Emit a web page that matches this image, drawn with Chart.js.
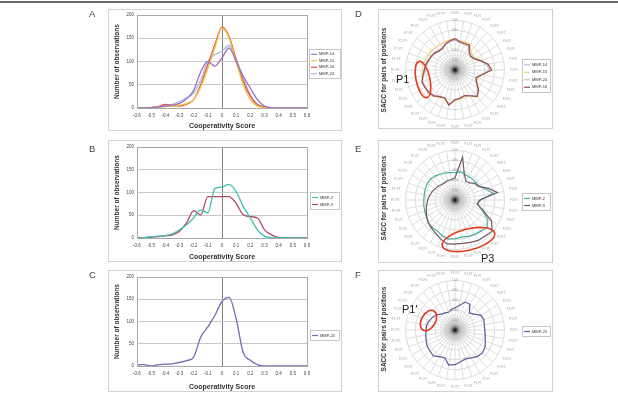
<!DOCTYPE html>
<html>
<head>
<meta charset="utf-8">
<script src="https://cdn.jsdelivr.net/npm/chart.js@4.4.1/dist/chart.umd.min.js"></script>
<style>
  body { margin: 0; width: 618px; height: 397px; background: #fff; position: relative; overflow: hidden; }
  canvas { position: absolute; }
  #overlay { position: absolute; left: 0; top: 0; z-index: 5; }
</style>
</head>
<body>
<div style="position:absolute;left:0;top:1px;width:618px;height:2px;background:#6a6a6a"></div>

<canvas id="chartA" width="234" height="122" style="left:108px;top:9px"></canvas>
<canvas id="chartB" width="234" height="122" style="left:108px;top:140px"></canvas>
<canvas id="chartC" width="234" height="122" style="left:108px;top:270px"></canvas>
<canvas id="chartD" width="175" height="120" style="left:378px;top:9px"></canvas>
<canvas id="chartE" width="175" height="123" style="left:378px;top:140px"></canvas>
<canvas id="chartF" width="175" height="122" style="left:378px;top:270px"></canvas>

<svg id="overlay" width="618" height="397" font-family="Arial, 'Liberation Sans', sans-serif">
  <g fill="#444" font-size="9.5">
    <text x="89" y="17">A</text>
    <text x="89" y="152">B</text>
    <text x="89" y="278">C</text>
    <text x="355" y="17">D</text>
    <text x="355" y="152">E</text>
    <text x="355" y="278">F</text>
  </g>
  <g fill="#333" font-size="6.5" font-weight="bold" text-anchor="middle">
    <text transform="translate(386,70) rotate(-90)">SACC for pairs of positions</text>
    <text transform="translate(386,198) rotate(-90)">SACC for pairs of positions</text>
    <text transform="translate(386,329) rotate(-90)">SACC for pairs of positions</text>
  </g>
  <g fill="none" stroke="#e63a1e" stroke-width="1.6">
    <ellipse cx="423" cy="79.5" rx="7" ry="18.5" transform="rotate(-12 423 79.5)"/>
    <ellipse cx="468.5" cy="239.5" rx="27" ry="10.5" transform="rotate(-14 468.5 239.5)"/>
    <ellipse cx="428.5" cy="320.5" rx="7" ry="11" transform="rotate(30 428.5 320.5)"/>
  </g>
  <g fill="#222" font-size="11">
    <text x="396" y="83">P1</text>
    <text x="481" y="262">P3</text>
    <text x="402" y="312.5">P1'</text>
  </g>
</svg>

<script>
Chart.defaults.font.family = 'Arial, "Liberation Sans", sans-serif';

// cooperativity score bins
const scores = [-0.6, -0.55, -0.5, -0.45, -0.4, -0.35, -0.3, -0.25, -0.2, -0.15, -0.1, -0.05, 0,
                0.05, 0.1, 0.15, 0.2, 0.25, 0.3, 0.35, 0.4, 0.45, 0.5, 0.55, 0.6];

// panel A
const mmp14A = [0, 0, 1, 2, 4, 6, 10, 20, 38, 78, 100, 90, 108, 129, 100, 68, 43, 18, 4, 1, 0, 0, 0, 0, 0];
const mmp15A = [0, 0, 1, 2, 3, 4, 6, 10, 18, 45, 85, 130, 172, 150, 98, 50, 18, 4, 1, 0, 0, 0, 0, 0, 0];
const mmp16A = [0, 0, 1, 3, 8, 5, 4, 8, 18, 50, 93, 136, 174, 154, 104, 57, 25, 7, 2, 0, 0, 0, 0, 0, 0];
const mmp24A = [0, 0, 1, 3, 6, 8, 14, 22, 32, 60, 100, 115, 122, 135, 105, 65, 28, 8, 2, 0, 0, 0, 0, 0, 0];
// panel B
const mmp2B = [0, 1, 3, 4, 5, 9, 18, 29, 44, 62, 55, 109, 112, 118, 102, 69, 44, 18, 4, 1, 0, 0, 0, 0, 0];
const mmp9B = [0, 1, 2, 3, 5, 7, 15, 33, 60, 51, 91, 91, 91, 91, 76, 51, 47, 44, 18, 7, 1, 0, 0, 0, 0];
// panel C
const mmp25C = [2, 3, 0, 3, 4, 5, 8, 12, 20, 65, 88, 114, 145, 154, 106, 30, 13, 3, 0, 0, 0, 0, 0, 0, 0];

const yTicks = [0, 50, 100, 150, 200];

// radar spokes: pairs of substrate positions
const positions = ["P4", "P3", "P2", "P1", "P1'", "P2'", "P3'", "P4'", "P5'"];
const pairLabels = [];
for (let i = 0; i < positions.length; i++)
  for (let j = i + 1; j < positions.length; j++) pairLabels.push(positions[i] + '-' + positions[j]);

// panel D
const mmp14D = [0.6, 0.56, 0.55, 0.55, 0.44, 0.42, 0.46, 0.54, 0.65, 0.7, 0.54, 0.46, 0.5, 0.6, 0.68, 0.6, 0.56, 0.57, 0.6, 0.7, 0.6, 0.62, 0.66, 0.68, 0.69, 0.7, 0.65, 0.6, 0.58, 0.56, 0.56, 0.55, 0.52, 0.52, 0.56, 0.58];
const mmp15D = [0.62, 0.6, 0.6, 0.6, 0.5, 0.46, 0.48, 0.56, 0.66, 0.72, 0.56, 0.48, 0.52, 0.62, 0.7, 0.62, 0.57, 0.6, 0.62, 0.72, 0.62, 0.64, 0.68, 0.7, 0.7, 0.7, 0.68, 0.66, 0.66, 0.64, 0.62, 0.62, 0.6, 0.6, 0.6, 0.62];
const mmp24D = [0.63, 0.57, 0.56, 0.57, 0.46, 0.43, 0.46, 0.55, 0.67, 0.73, 0.55, 0.46, 0.5, 0.61, 0.69, 0.6, 0.55, 0.58, 0.6, 0.71, 0.6, 0.62, 0.67, 0.69, 0.7, 0.7, 0.66, 0.62, 0.6, 0.57, 0.55, 0.54, 0.51, 0.51, 0.56, 0.6];
const mmp16D = [0.63, 0.58, 0.57, 0.58, 0.45, 0.42, 0.45, 0.55, 0.68, 0.74, 0.55, 0.45, 0.5, 0.62, 0.7, 0.6, 0.55, 0.58, 0.6, 0.72, 0.6, 0.62, 0.68, 0.7, 0.7, 0.71, 0.66, 0.62, 0.6, 0.57, 0.55, 0.53, 0.5, 0.5, 0.56, 0.6];
// panel E
const mmp2E = [0.55, 0.58, 0.56, 0.55, 0.55, 0.55, 0.56, 0.65, 0.78, 0.52, 0.46, 0.58, 0.75, 0.85, 0.82, 0.8, 0.78, 0.76, 0.78, 0.8, 0.76, 0.72, 0.72, 0.7, 0.67, 0.65, 0.64, 0.63, 0.63, 0.64, 0.65, 0.65, 0.63, 0.6, 0.58, 0.56];
const mmp9E = [0.45, 0.88, 0.55, 0.44, 0.45, 0.52, 0.55, 0.7, 0.87, 0.5, 0.45, 0.6, 0.85, 0.98, 0.95, 0.94, 0.91, 0.89, 0.89, 0.9, 0.84, 0.78, 0.74, 0.71, 0.66, 0.62, 0.58, 0.55, 0.52, 0.49, 0.46, 0.44, 0.41, 0.41, 0.42, 0.42];
// panel F
const mmp25F = [0.45, 0.5, 0.6, 0.6, 0.45, 0.5, 0.6, 0.62, 0.6, 0.6, 0.62, 0.65, 0.7, 0.72, 0.7, 0.65, 0.62, 0.65, 0.7, 0.72, 0.6, 0.62, 0.68, 0.66, 0.65, 0.62, 0.6, 0.58, 0.58, 0.55, 0.52, 0.48, 0.42, 0.4, 0.38, 0.42];

// little legend box like the excel one
const boxLegend = {
  id: 'boxLegend',
  afterDraw(chart, args, opts) {
    const ctx = chart.ctx;
    const sets = chart.data.datasets;
    const h = sets.length * opts.row + 3;
    ctx.save();
    ctx.fillStyle = '#fff';
    ctx.fillRect(opts.x, opts.y, opts.w, h);
    ctx.strokeStyle = '#b8b8b8';
    ctx.lineWidth = 0.8;
    ctx.strokeRect(opts.x + 0.5, opts.y + 0.5, opts.w, h);
    ctx.font = '4px Arial';
    ctx.textBaseline = 'middle';
    sets.forEach((ds, i) => {
      const cy = opts.y + 2 + opts.row * (i + 0.5);
      ctx.strokeStyle = ds.borderColor;
      ctx.lineWidth = 1.2;
      ctx.beginPath();
      ctx.moveTo(opts.x + 2, cy);
      ctx.lineTo(opts.x + 8, cy);
      ctx.stroke();
      ctx.fillStyle = '#333';
      ctx.fillText(ds.label, opts.x + 10, cy);
    });
    ctx.restore();
  }
};

const frame = {
  id: 'frame',
  afterDraw(chart) {
    const ctx = chart.ctx;
    ctx.save();
    ctx.strokeStyle = '#d2d2d2';
    ctx.lineWidth = 1;
    ctx.strokeRect(0.5, 0.5, chart.width - 1, chart.height - 1);
    if (chart.config.type === 'line') {
      const a = chart.chartArea;
      ctx.strokeStyle = '#a8a8a8';
      ctx.strokeRect(Math.round(a.left) + 0.5, Math.round(a.top) + 0.5,
                     Math.round(a.right - a.left), Math.round(a.bottom - a.top));
    }
    ctx.restore();
  }
};

// dark hub in the middle of the radar (dense rings/spokes)
const hub = {
  id: 'hub',
  beforeDatasetsDraw(chart) {
    const r = chart.scales.r;
    const ctx = chart.ctx;
    const R = r.drawingArea * 0.3;
    const g = ctx.createRadialGradient(r.xCenter, r.yCenter, 0, r.xCenter, r.yCenter, R);
    g.addColorStop(0, 'rgba(0,0,0,1)');
    g.addColorStop(0.12, 'rgba(30,30,30,0.8)');
    g.addColorStop(0.35, 'rgba(110,110,110,0.35)');
    g.addColorStop(0.7, 'rgba(170,170,170,0.18)');
    g.addColorStop(1, 'rgba(200,200,200,0)');
    ctx.save();
    ctx.fillStyle = g;
    ctx.beginPath();
    ctx.arc(r.xCenter, r.yCenter, R, 0, Math.PI * 2);
    ctx.fill();
    ctx.strokeStyle = 'rgba(150,150,150,0.35)';
    ctx.lineWidth = 0.5;
    for (let k = 1; k <= 5; k++) {
      ctx.beginPath();
      ctx.arc(r.xCenter, r.yCenter, R * k / 5, 0, Math.PI * 2);
      ctx.stroke();
    }
    ctx.restore();
  }
};

function makeLine(id, series, legend, plotTop, xAxisH) {
  new Chart(document.getElementById(id), {
    type: 'line',
    data: {
      datasets: series.map(s => ({
        label: s.name,
        data: scores.map((x, i) => ({ x: x, y: s.data[i] })),
        borderColor: s.color,
        borderWidth: 1.3,
        pointRadius: 0,
        cubicInterpolationMode: 'monotone',
        fill: false
      }))
    },
    options: {
      responsive: false,
      animation: false,
      layout: { padding: { top: plotTop, right: 35, left: 0, bottom: 0 } },
      plugins: { legend: { display: false }, tooltip: { enabled: false }, boxLegend: legend },
      scales: {
        x: {
          type: 'linear', min: -0.6, max: 0.6,
          ticks: { stepSize: 0.1, font: { size: 4.5 }, color: '#444', padding: 5, maxRotation: 0, autoSkip: false },
          grid: { drawTicks: false, color: c => (c.tick && Math.abs(c.tick.value) < 1e-9) ? '#808080' : 'rgba(0,0,0,0)' },
          border: { color: '#a8a8a8' },
          title: { display: true, text: 'Cooperativity Score', font: { size: 7, weight: 'bold' }, color: '#333', padding: { top: 0, bottom: 1 } },
          afterFit: s => { s.height = xAxisH; }
        },
        y: {
          min: 0, max: 200,
          afterBuildTicks: s => { s.ticks = yTicks.map(v => ({ value: v })); },
          ticks: { font: { size: 4.5 }, color: '#444', padding: 3 },
          grid: { drawTicks: false, color: '#c8c8c8' },
          border: { color: '#a8a8a8' },
          title: { display: true, text: 'Number of observations', font: { size: 6.5, weight: 'bold' }, color: '#333', padding: { top: 5, bottom: 0 } },
          afterFit: s => { s.width = 29; }
        }
      }
    },
    plugins: [boxLegend, frame]
  });
}

function makeRadar(id, series, legend, pad) {
  new Chart(document.getElementById(id), {
    type: 'radar',
    data: {
      labels: pairLabels,
      datasets: series.map(s => ({
        label: s.name,
        data: s.data,
        borderColor: s.color,
        borderWidth: 1.2,
        pointRadius: 0,
        fill: false,
        order: s.top ? 0 : 1
      }))
    },
    options: {
      responsive: false,
      animation: false,
      layout: { padding: pad },
      plugins: { legend: { display: false }, tooltip: { enabled: false }, boxLegend: legend },
      scales: {
        r: {
          min: 0, max: 1,
          ticks: { stepSize: 0.2, font: { size: 3.2 }, color: '#999', showLabelBackdrop: false, callback: v => v.toFixed(2) },
          grid: { circular: true, color: '#dcdcdc' },
          angleLines: { color: '#dedede' },
          pointLabels: { font: { size: 2.8 }, color: '#aaa', padding: 2 }
        }
      }
    },
    plugins: [hub, boxLegend, frame]
  });
}

makeLine('chartA', [
  { name: 'MMP-14', data: mmp14A, color: '#9a72c8' },
  { name: 'MMP-15', data: mmp15A, color: '#f2c640' },
  { name: 'MMP-16', data: mmp16A, color: '#e8503a' },
  { name: 'MMP-24', data: mmp24A, color: '#a8b8e0' }
], { x: 201, y: 40, w: 31, row: 6.5 }, 6, 23);

makeLine('chartB', [
  { name: 'MMP-2', data: mmp2B, color: '#3fbfb0' },
  { name: 'MMP-9', data: mmp9B, color: '#b04a60' }
], { x: 202, y: 52, w: 29, row: 7 }, 7, 24);

makeLine('chartC', [
  { name: 'MMP-25', data: mmp25C, color: '#6d6db5' }
], { x: 202, y: 60, w: 29, row: 7 }, 7, 26);

makeRadar('chartD', [
  { name: 'MMP-14', data: mmp14D, color: '#c4b6dc' },
  { name: 'MMP-15', data: mmp15D, color: '#f0d680' },
  { name: 'MMP-24', data: mmp24D, color: '#d8bfb4' },
  { name: 'MMP-16', data: mmp16D, color: '#9a5046', top: true }
], { x: 144, y: 50, w: 28, row: 7.5 }, { left: 13, right: 34, top: 2, bottom: 0 });

makeRadar('chartE', [
  { name: 'MMP-2', data: mmp2E, color: '#48b0a0' },
  { name: 'MMP-9', data: mmp9E, color: '#705868', top: true }
], { x: 144, y: 53, w: 28, row: 7 }, { left: 13, right: 34, top: 0, bottom: 2 });

makeRadar('chartF', [
  { name: 'MMP-25', data: mmp25F, color: '#5a5a9a' }
], { x: 144, y: 56, w: 28, row: 7 }, { left: 13, right: 34, top: 0, bottom: 1 });
</script>
</body>
</html>
